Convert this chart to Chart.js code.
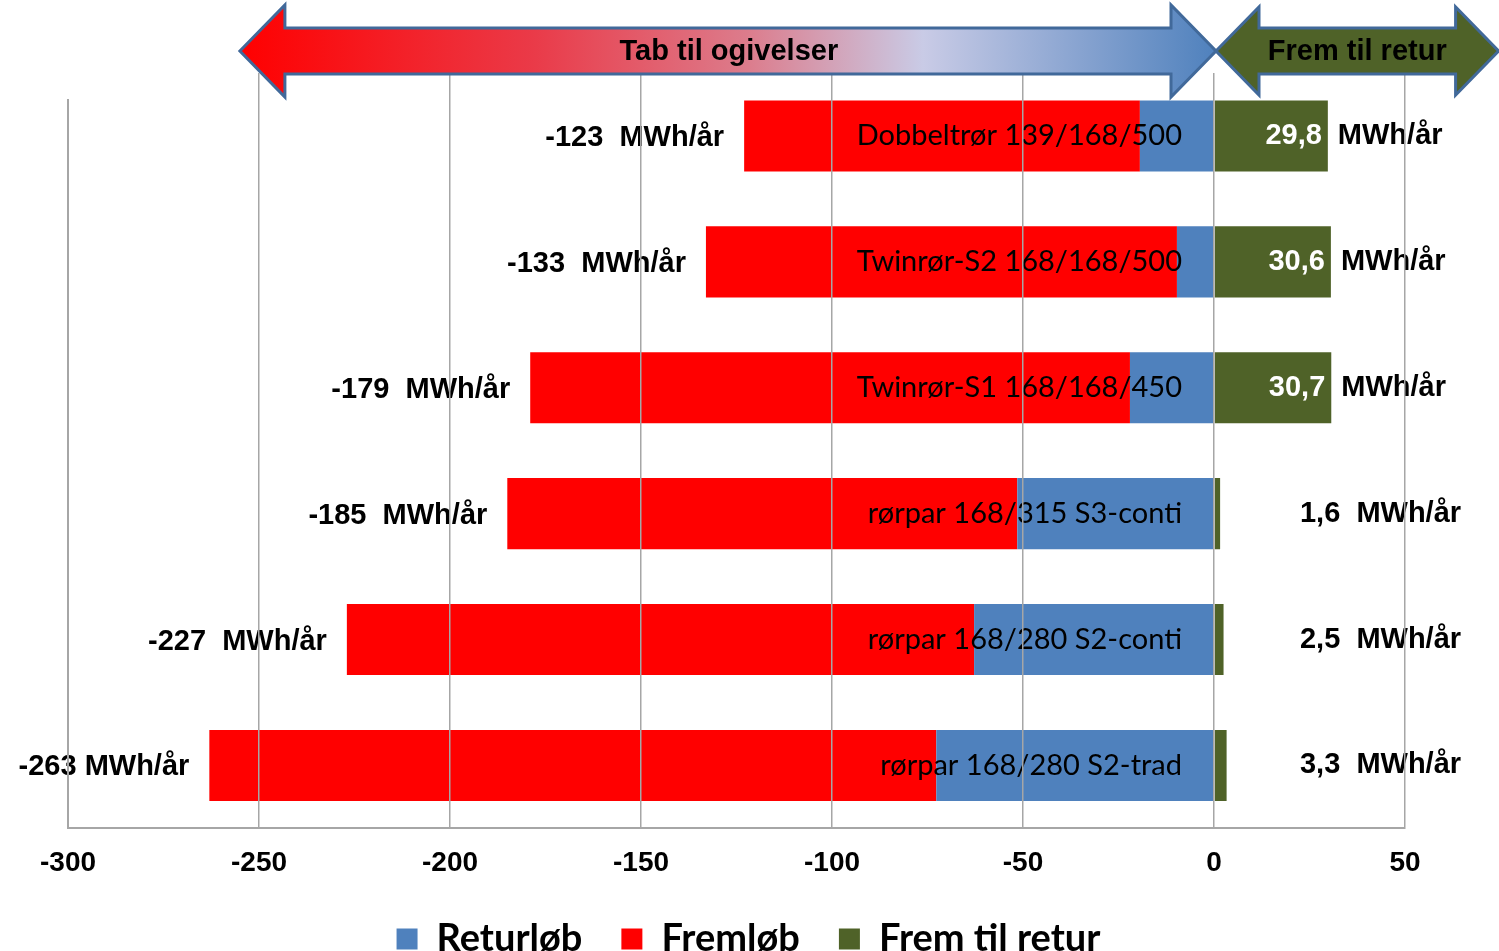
<!DOCTYPE html>
<html>
<head>
<meta charset="utf-8">
<title>Tab til omgivelser</title>
<script src="https://cdn.jsdelivr.net/npm/chart.js@4.4.1/dist/chart.umd.min.js"></script>
<style>
  html, body { margin: 0; padding: 0; background: #fff; }
</style>
</head>
<body>
<canvas id="barChart" width="1499" height="951"></canvas>
<script>
// values, MWh/år
const categories = ['Dobbeltrør 139/168/500', 'Twinrør-S2 168/168/500', 'Twinrør-S1 168/168/450',
  'rørpar 168/315 S3-conti', 'rørpar 168/280 S2-conti', 'rørpar 168/280 S2-trad'];
const returlob = [-19.4, -9.7, -22.0, -51.5, -62.8, -72.7];
const fremlob = [-103.6, -123.3, -157.0, -133.5, -164.2, -190.3];
const fremTilRetur = [29.8, 30.6, 30.7, 1.6, 2.5, 3.3];
const totalTab = [-123, -133, -179, -185, -227, -263];
const tabLabels = ['-123  MWh/år', '-133  MWh/år', '-179  MWh/år', '-185  MWh/år', '-227  MWh/år', '-263 MWh/år'];
const xTicks = [-300, -250, -200, -150, -100, -50, 0, 50];

const BOLD = '"Liberation Sans", Arial, sans-serif';
const fmt = v => v.toFixed(1).replace('.', ',');

// text next to / inside the bars
const barText = {
  id: 'barText',
  afterDatasetsDraw(chart) {
    const ctx = chart.ctx;
    const x = chart.scales.x, y = chart.scales.y;
    const x0 = x.getPixelForValue(0);
    ctx.save();
    ctx.textBaseline = 'middle';
    categories.forEach((name, i) => {
      const yc = y.getPixelForValue(i);
      // category name inside the bar
      ctx.font = '29px Lato, sans-serif';
      ctx.fillStyle = '#000';
      ctx.textAlign = 'right';
      ctx.fillText(name, x0 - 32, yc);
      // total loss left of bar
      ctx.font = 'bold 29px ' + BOLD;
      ctx.fillText(tabLabels[i], x.getPixelForValue(totalTab[i]) - 20, yc + 2);
      // gain on the right
      const g = fremTilRetur[i];
      const xe = x.getPixelForValue(g);
      if (g > 10) {
        ctx.fillStyle = '#fff';
        ctx.fillText(fmt(g), xe - 6, yc);
        ctx.fillStyle = '#000';
        ctx.textAlign = 'left';
        ctx.fillText('MWh/år', xe + 10, yc);
      } else {
        ctx.textAlign = 'left';
        ctx.fillText(fmt(g) + '  MWh/år', x.getPixelForValue(22.5), yc);
      }
    });
    // left axis line
    const xl = x.getPixelForValue(-300);
    ctx.strokeStyle = '#a6a6a6';
    ctx.lineWidth = 2;
    ctx.beginPath();
    ctx.moveTo(xl, chart.chartArea.top + 26);
    ctx.lineTo(xl, chart.chartArea.bottom);
    ctx.stroke();
    ctx.restore();
  }
};

// the two arrows over the plot
function arrow(ctx, xa, xb, yc, shaft, head, headLen) {
  ctx.beginPath();
  ctx.moveTo(xa, yc);
  ctx.lineTo(xa + headLen, yc - head);
  ctx.lineTo(xa + headLen, yc - shaft);
  ctx.lineTo(xb - headLen, yc - shaft);
  ctx.lineTo(xb - headLen, yc - head);
  ctx.lineTo(xb, yc);
  ctx.lineTo(xb - headLen, yc + head);
  ctx.lineTo(xb - headLen, yc + shaft);
  ctx.lineTo(xa + headLen, yc + shaft);
  ctx.lineTo(xa + headLen, yc + head);
  ctx.closePath();
}

const arrows = {
  id: 'arrows',
  afterLayout(chart) {
    // legend is centred on the page, not on the plot
    chart.legend.left += 12;
    chart.legend.right += 12;
  },
  afterDraw(chart) {
    const ctx = chart.ctx;
    const x = chart.scales.x;
    const top = chart.chartArea.top;
    const yc = top - 22;
    const xa = x.getPixelForValue(-255);
    const x0 = x.getPixelForValue(0) + 2;
    const xb = x.getPixelForValue(74.5);
    ctx.save();
    ctx.lineWidth = 3;
    ctx.strokeStyle = '#41699a';
    ctx.lineJoin = 'miter';

    const grad = ctx.createLinearGradient(xa, 0, x0, 0);
    grad.addColorStop(0, '#ff0000');
    grad.addColorStop(0.3, '#ea3a48');
    grad.addColorStop(0.52, '#dc7c8c');
    grad.addColorStop(0.7, '#c9cbe6');
    grad.addColorStop(1, '#4f81bd');
    arrow(ctx, xa, x0, yc, 23, 46, 45);
    ctx.fillStyle = grad;
    ctx.fill();
    ctx.stroke();

    arrow(ctx, x0, xb, yc, 23, 44, 43);
    ctx.fillStyle = '#4f6228';
    ctx.fill();
    ctx.stroke();

    ctx.fillStyle = '#000';
    ctx.font = 'bold 29px ' + BOLD;
    ctx.textAlign = 'center';
    ctx.textBaseline = 'middle';
    ctx.fillText('Tab til ogivelser', x.getPixelForValue(-127), yc + 1);
    ctx.fillText('Frem til retur', x.getPixelForValue(37.5), yc + 1);
    ctx.restore();
  }
};

new Chart(document.getElementById('barChart'), {
  type: 'bar',
  data: {
    labels: categories,
    datasets: [
      { label: 'Returløb', data: returlob, backgroundColor: '#4f81bd' },
      { label: 'Fremløb', data: fremlob, backgroundColor: '#ff0000' },
      { label: 'Frem til retur', data: fremTilRetur, backgroundColor: '#4f6228' }
    ]
  },
  options: {
    indexAxis: 'y',
    responsive: false,
    animation: false,
    datasets: { bar: { categoryPercentage: 1, barPercentage: 0.565 } },
    layout: { padding: { left: 68, right: 94, top: 73, bottom: -17 } },
    scales: {
      x: {
        stacked: true,
        min: -300,
        max: 50,
        afterBuildTicks: s => { s.ticks = xTicks.map(v => ({ value: v })); },
        afterFit: s => { s.height -= 17; },
        grid: {
          z: 1,
          drawTicks: false,
          lineWidth: 1.5,
          color: c => c.index === 0 ? 'rgba(0,0,0,0)' : '#a6a6a6'
        },
        border: { z: 1, color: '#a6a6a6', width: 2 },
        ticks: {
          padding: 18,
          color: '#000',
          font: { family: BOLD, size: 28, weight: 'bold' }
        }
      },
      y: {
        stacked: true,
        display: false
      }
    },
    plugins: {
      tooltip: { enabled: false },
      legend: {
        position: 'bottom',
        labels: {
          boxWidth: 21,
          boxHeight: 21,
          padding: 39,
          color: '#000',
          font: { family: 'Lato, sans-serif', size: 38, weight: 'bold' }
        }
      }
    }
  },
  plugins: [barText, arrows]
});
</script>
</body>
</html>
